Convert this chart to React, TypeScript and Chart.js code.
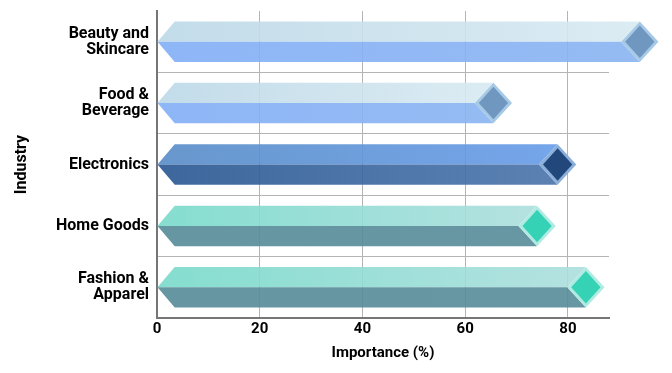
import React, { useEffect, useRef } from 'react';
import { Chart, registerables } from 'chart.js';

Chart.register(...registerables);

// ---- data ----
const categories: (string | string[])[] = [
  ['Beauty and', 'Skincare'],
  ['Food &', 'Beverage'],
  'Electronics',
  'Home Goods',
  ['Fashion &', 'Apparel'],
];
const importance = [94, 65.5, 78, 74, 83.5];
const xAxisTitle = 'Importance (%)';
const yAxisTitle = 'Industry';
const xMin = 0;
const xMax = 88;
const xStep = 20;

// ---- styles (per category) ----
const palettes = [
  { topL: '#bdd9e8', topR: '#d8eaf2', frontL: '#82aff7', frontR: '#8ab4f2', diamond: '#6f97c0', edge: '#a6c9e6' },
  { topL: '#bdd9e8', topR: '#d8eaf2', frontL: '#82aff7', frontR: '#8ab4f2', diamond: '#6f97c0', edge: '#a6c9e6' },
  { topL: '#578cc7', topR: '#679ce9', frontL: '#285792', frontR: '#4a74ab', diamond: '#22477b', edge: '#8cafda' },
  { topL: '#78dacb', topR: '#addfde', frontL: '#558b97', frontR: '#578c99', diamond: '#35d2b5', edge: '#afebe2' },
  { topL: '#78dacb', topR: '#addfde', frontL: '#558b97', frontR: '#578c99', diamond: '#35d2b5', edge: '#afebe2' },
];

const prismPlugin = {
  id: 'prismBars',
  afterDatasetsDraw(chart: any) {
    const meta = chart.getDatasetMeta(0);
    const ctx: CanvasRenderingContext2D = chart.ctx;
    meta.data.forEach((bar: any, i: number) => {
      const { x, y, base, height } = bar.getProps(['x', 'y', 'base', 'height'], true);
      const p = palettes[i % palettes.length];
      const h = height / 2;
      const d = h * 0.85;
      const dw = h * 0.92;
      ctx.save();
      ctx.globalAlpha = 0.9;
      // top face
      const gTop = ctx.createLinearGradient(base, 0, x, 0);
      gTop.addColorStop(0, p.topL);
      gTop.addColorStop(1, p.topR);
      ctx.fillStyle = gTop;
      ctx.beginPath();
      ctx.moveTo(base, y);
      ctx.lineTo(base + d, y - h);
      ctx.lineTo(x, y - h);
      ctx.lineTo(x - dw, y);
      ctx.closePath();
      ctx.fill();
      // front face
      const gFront = ctx.createLinearGradient(base, 0, x, 0);
      gFront.addColorStop(0, p.frontL);
      gFront.addColorStop(1, p.frontR);
      ctx.fillStyle = gFront;
      ctx.beginPath();
      ctx.moveTo(base, y);
      ctx.lineTo(x - dw, y);
      ctx.lineTo(x, y + h);
      ctx.lineTo(base + d, y + h);
      ctx.closePath();
      ctx.fill();
      ctx.globalAlpha = 1;
      // diamond outer (edge)
      ctx.fillStyle = p.edge;
      ctx.beginPath();
      ctx.moveTo(x, y - h);
      ctx.lineTo(x + dw, y);
      ctx.lineTo(x, y + h);
      ctx.lineTo(x - dw, y);
      ctx.closePath();
      ctx.fill();
      // diamond inner
      const ins = 4;
      ctx.fillStyle = p.diamond;
      ctx.beginPath();
      ctx.moveTo(x, y - h + ins);
      ctx.lineTo(x + dw - ins, y);
      ctx.lineTo(x, y + h - ins);
      ctx.lineTo(x - dw + ins, y);
      ctx.closePath();
      ctx.fill();
      ctx.restore();
    });
  },
};

export default function App() {
  const ref = useRef<HTMLCanvasElement | null>(null);
  useEffect(() => {
    if (!ref.current) return;
    const chart = new Chart(ref.current, {
      type: 'bar',
      data: {
        labels: categories as any,
        datasets: [
          {
            label: 'Importance',
            data: importance,
            backgroundColor: 'rgba(0,0,0,0)',
            borderWidth: 0,
            barPercentage: 0.66,
            categoryPercentage: 1,
          },
        ],
      },
      options: {
        indexAxis: 'y',
        animation: false,
        responsive: true,
        maintainAspectRatio: false,
        layout: { padding: { top: 3, right: 55, left: 0, bottom: 0 } },
        plugins: { legend: { display: false }, tooltip: { enabled: false } },
        scales: {
          x: {
            type: 'linear',
            min: xMin,
            max: xMax,
            ticks: {
              stepSize: xStep,
              includeBounds: false,
              color: '#000',
              padding: 2,
              font: { family: 'Roboto, sans-serif', weight: 'bold', size: 15, lineHeight: 1.2 },
            },
            grid: { color: '#b4b4b4', lineWidth: 1, drawTicks: false },
            border: { color: '#767676', width: 2 },
            title: {
              display: true,
              text: xAxisTitle,
              color: '#000',
              padding: { top: 4, bottom: 3 },
              font: { family: 'Roboto, sans-serif', weight: 'bold', size: 15, lineHeight: 1.2 },
            },
          },
          y: {
            type: 'category',
            afterFit: (scale: any) => {
              scale.width = 149;
              scale.paddingTop = 0;
              scale.paddingBottom = 0;
            },
            ticks: {
              color: '#000',
              padding: 8,
              font: { family: 'Roboto, sans-serif', weight: 'bold', size: 16, lineHeight: 1.0 },
            },
            grid: {
              color: (c: any) => (c.index === 0 ? 'rgba(0,0,0,0)' : '#b4b4b4'),
              lineWidth: 1,
              drawTicks: false,
            },
            border: { color: '#767676', width: 2 },
            title: {
              display: true,
              text: yAxisTitle,
              color: '#000',
              padding: { top: 4, bottom: 4 },
              font: { family: 'Roboto, sans-serif', weight: 'bold', size: 16, lineHeight: 1.2 },
            },
          },
        },
      },
      plugins: [prismPlugin],
    });
    return () => chart.destroy();
  }, []);
  return (
    <div style={{ position: 'relative', width: '100%', height: '357px' }}>
      <canvas ref={ref} />
    </div>
  );
}
